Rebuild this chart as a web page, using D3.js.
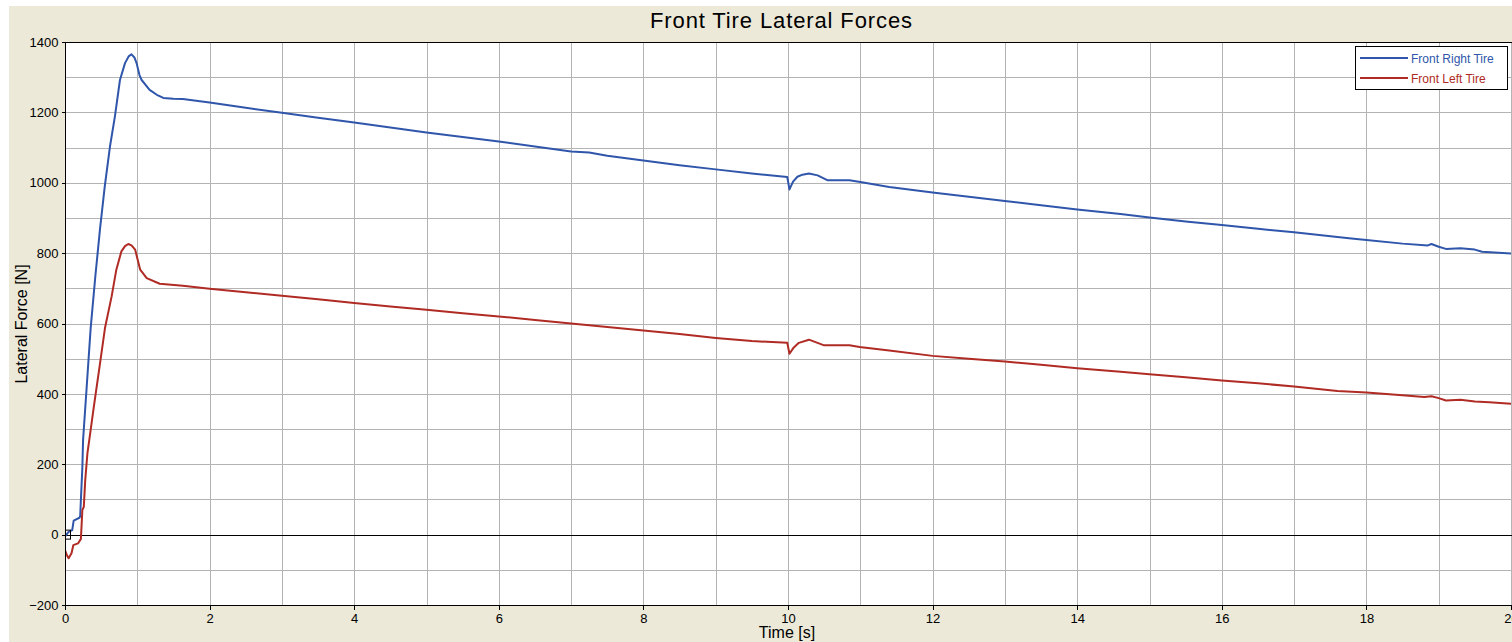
<!DOCTYPE html>
<html>
<head>
<meta charset="utf-8">
<script src="https://cdn.jsdelivr.net/npm/d3@7"></script>
<style>
    body { margin: 0; background: #ffffff; overflow: hidden; }
    text { font-family: "Liberation Sans", Arial, sans-serif; }
</style>
</head>
<body>
<div id="chart"></div>
<script>
// 右前轮侧向力 (时间 s, 力 N)
const rightTime = [0, 0.05, 0.1, 0.12, 0.2, 0.21, 0.22, 0.24, 0.25, 0.3, 0.355, 0.42, 0.484, 0.55, 0.622, 0.69, 0.76, 0.83, 0.88, 0.92, 0.96, 0.99, 1.03, 1.06, 1.17, 1.27, 1.36, 1.5, 1.63,
    2, 2.5, 3, 3.5, 4, 4.5, 5, 5.5, 6, 6.5, 7, 7.25, 7.5, 8, 8.5, 9, 9.5, 9.99,
    10.02, 10.07, 10.13, 10.2, 10.29, 10.41, 10.55, 10.85, 11, 11.4, 12, 12.5, 13, 13.5, 14, 14.6, 15, 15.5, 16, 16.5, 17, 17.6, 17.76,
    18, 18.5, 18.85, 18.9, 19, 19.1, 19.3, 19.5, 19.6, 20];
const rightForce = [-5, 8, 13, 40, 48, 52, 100, 190, 269, 420, 587, 735, 868, 990, 1103, 1188, 1292, 1340, 1359, 1365, 1356, 1340, 1306, 1292, 1264, 1250, 1241, 1239, 1238,
    1228, 1213, 1199, 1185, 1171, 1157, 1143, 1130, 1117, 1103, 1089, 1086, 1077, 1063, 1050, 1038, 1026, 1016,
    981, 1003, 1017, 1023, 1026, 1021, 1007, 1007, 1002, 988, 972, 960, 948, 936, 924, 911, 901, 890, 880, 869, 859, 846, 842,
    837, 827, 822, 826, 818, 812, 814, 810, 804, 799];

// 左前轮侧向力
const leftTime = [0, 0.03, 0.05, 0.09, 0.115, 0.18, 0.22, 0.24, 0.26, 0.28, 0.31, 0.336, 0.4, 0.48, 0.553, 0.645, 0.71, 0.78, 0.83, 0.875, 0.92, 0.97, 1.04, 1.13, 1.31, 1.63,
    2, 2.5, 3, 3.5, 4, 4.5, 5, 5.5, 6, 6.5, 7, 7.5, 8, 8.5, 9, 9.5, 9.99,
    10.02, 10.08, 10.15, 10.29, 10.5, 10.85, 10.99, 11.4, 12, 12.5, 13, 13.5, 14, 14.6, 15, 15.5, 16, 16.5, 17, 17.6,
    18, 18.5, 18.8, 18.9, 19, 19.1, 19.3, 19.5, 19.7, 20];
const leftForce = [-44, -60, -67, -53, -30, -25, -12, 70, 79, 155, 231, 269, 365, 480, 587, 677, 753, 805, 820, 826, 822, 810, 753, 729, 713, 707,
    699, 689, 679, 669, 658, 648, 639, 629, 620, 610, 600, 590, 580, 570, 559, 550, 545,
    514, 532, 545, 554, 538, 538, 533, 523, 508, 500, 492, 483, 473, 463, 456, 447, 438, 430, 421, 408,
    404, 396, 391, 393, 388, 381, 383, 378, 376, 372];

const seriesNames = ["Front Right Tire", "Front Left Tire"];
const seriesColors = ["#2f56aa", "#b02b24"];

const xTicks = [0, 2, 4, 6, 8, 10, 12, 14, 16, 18, 20];
const yTicks = [-200, 0, 200, 400, 600, 800, 1000, 1200, 1400];

window.onload = function () {
    plot();
};

function plot() {
    let width = 1512, height = 642;
    let left = 65, top = 42, bottom = 605, right = 1511;

    let svg = d3.select("#chart").append("svg")
        .attr("width", width)
        .attr("height", height);

    // 米色背景 (上方和左侧留一条白边)
    svg.append("rect")
        .attr("x", 9).attr("y", 6)
        .attr("width", width - 9).attr("height", height - 6)
        .attr("fill", "#ece9d8");

    let x = d3.scaleLinear().domain([0, 20]).range([left, right]);
    let y = d3.scaleLinear().domain([-200, 1400]).range([bottom, top]);

    // 绘图区
    svg.append("rect")
        .attr("x", left).attr("y", top)
        .attr("width", width - left).attr("height", bottom - top)
        .attr("fill", "#ffffff");

    // 网格线
    let grid = svg.append("g").attr("shape-rendering", "crispEdges");
    grid.selectAll(".vx").data(d3.range(1, 21))
        .enter().append("line")
        .attr("x1", d => Math.round(x(d)) + 0.5).attr("x2", d => Math.round(x(d)) + 0.5)
        .attr("y1", top).attr("y2", bottom)
        .attr("stroke", "#b4b4b4");
    grid.selectAll(".hy").data(d3.range(-100, 1400, 100))
        .enter().append("line")
        .attr("x1", left).attr("x2", width)
        .attr("y1", d => Math.round(y(d)) + 0.5).attr("y2", d => Math.round(y(d)) + 0.5)
        .attr("stroke", d => d === 0 ? "#000000" : "#b4b4b4");

    // 坐标轴
    let yAxis = d3.axisLeft(y).tickValues(yTicks).tickSize(4).tickPadding(3).tickFormat(d3.format("d"));
    let xAxis = d3.axisBottom(x).tickValues(xTicks).tickSize(4).tickPadding(4).tickFormat(d3.format("d"));

    let gy = svg.append("g")
        .attr("transform", "translate(" + (left + 0.5) + ",0)")
        .call(yAxis);
    let gx = svg.append("g")
        .attr("transform", "translate(0," + (bottom + 0.5) + ")")
        .call(xAxis);
    [gy, gx].forEach(function (g) {
        g.select(".domain").remove();
        g.selectAll("line").attr("stroke", "#000").attr("shape-rendering", "crispEdges");
        g.selectAll("text").attr("font-size", 13).attr("fill", "#000")
            .style("font-family", "'Liberation Sans', Arial, sans-serif");
    });

    // 边框 (左、上、下)
    svg.append("path")
        .attr("d", "M" + width + "," + (top + 0.5) + "H" + (left + 0.5) + "V" + (bottom + 0.5) + "H" + width)
        .attr("fill", "none")
        .attr("stroke", "#000")
        .attr("shape-rendering", "crispEdges");

    // 曲线
    svg.append("clipPath").attr("id", "clip")
        .append("rect")
        .attr("x", left + 1).attr("y", top + 1)
        .attr("width", width - left).attr("height", bottom - top - 1);

    let line = d3.line()
        .x(d => x(d[0]))
        .y(d => y(d[1]));

    let series = [
        d3.zip(rightTime, rightForce),
        d3.zip(leftTime, leftForce)
    ];

    svg.append("g").attr("clip-path", "url(#clip)")
        .selectAll("path").data(series)
        .enter().append("path")
        .attr("d", line)
        .attr("fill", "none")
        .attr("stroke", (d, i) => seriesColors[i])
        .attr("stroke-width", 2)
        .attr("stroke-linejoin", "round");

    // 原点处的小方框
    svg.append("rect")
        .attr("x", x(0) + 0.5).attr("y", y(0) - 4.5)
        .attr("width", 5).attr("height", 9)
        .attr("fill", "none")
        .attr("stroke", "#000");

    // 标题和轴标签
    svg.append("text")
        .attr("x", 781).attr("y", 28)
        .attr("text-anchor", "middle")
        .attr("font-size", 22)
        .attr("textLength", 262)
        .attr("lengthAdjust", "spacing")
        .text("Front Tire Lateral Forces");

    svg.append("text")
        .attr("x", 787).attr("y", 638)
        .attr("text-anchor", "middle")
        .attr("font-size", 16)
        .text("Time [s]");

    svg.append("text")
        .attr("transform", "translate(27,324) rotate(-90)")
        .attr("text-anchor", "middle")
        .attr("font-size", 16)
        .text("Lateral Force [N]");

    // 图例
    let legend = svg.append("g");
    legend.append("rect")
        .attr("x", 1355.5).attr("y", 46.5)
        .attr("width", 152).attr("height", 43)
        .attr("fill", "#fff")
        .attr("stroke", "#000");

    let item = legend.selectAll(".item").data(seriesNames)
        .enter().append("g")
        .attr("transform", (d, i) => "translate(0," + (58 + i * 20) + ")");
    item.append("line")
        .attr("x1", 1360).attr("x2", 1408)
        .attr("stroke", (d, i) => seriesColors[i])
        .attr("stroke-width", 2);
    item.append("text")
        .attr("x", 1411).attr("y", 4.5)
        .attr("font-size", 12)
        .attr("fill", (d, i) => seriesColors[i])
        .text(d => d);
}
</script>
</body>
</html>
